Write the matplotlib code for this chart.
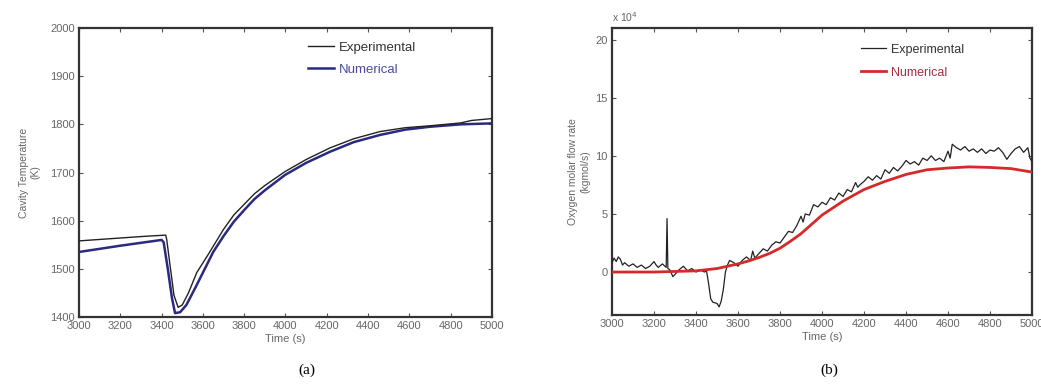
import matplotlib.pyplot as plt

# (a) cavity temperature
t_exp_a = [3000, 3100, 3200, 3300, 3420, 3425, 3440, 3460, 3480, 3500, 3530, 3570,
           3626, 3700, 3750, 3800, 3850, 3900, 3998, 4100, 4215, 4330, 4458, 4580,
           4700, 4850, 4900, 5000]
T_exp_a = [1558, 1561, 1564, 1567, 1570, 1560, 1510, 1445, 1420, 1425, 1450, 1492,
           1530, 1582, 1612, 1634, 1656, 1673, 1702, 1727, 1751, 1770, 1785, 1793,
           1797, 1803, 1808, 1812]
t_num_a = [3000, 3200, 3400, 3410, 3430, 3450, 3465, 3490, 3520, 3560, 3600, 3650,
           3700, 3750, 3800, 3850, 3900, 3998, 4100, 4215, 4330, 4458, 4580, 4700,
           4850, 5000]
T_num_a = [1535, 1548, 1560, 1555, 1500, 1440, 1408, 1410, 1425, 1458, 1492, 1535,
           1568, 1598, 1622, 1645, 1663, 1695, 1720, 1743, 1763, 1778, 1789, 1795,
           1800, 1802]

# (b) oxygen molar flow rate (x 10^4)
t_exp_b = [3000, 3010, 3020, 3030, 3040, 3050, 3060, 3080, 3100, 3120, 3140, 3160, 3180,
           3200, 3210, 3220, 3240, 3258, 3262, 3266, 3275, 3290, 3300, 3320, 3340, 3360,
           3380, 3400, 3420, 3440, 3450, 3460, 3470, 3480, 3500, 3510, 3520, 3530, 3540,
           3550, 3560, 3580, 3600, 3620, 3640, 3660, 3670, 3680, 3700, 3720, 3740, 3760,
           3780, 3800, 3820, 3840, 3860, 3880, 3900, 3910, 3920, 3940, 3960, 3980, 4000,
           4020, 4040, 4060, 4080, 4100, 4120, 4140, 4160, 4170, 4180, 4200, 4220, 4240,
           4260, 4280, 4300, 4320, 4340, 4360, 4380, 4400, 4420, 4440, 4460, 4480, 4500,
           4520, 4540, 4560, 4580, 4600, 4610, 4620, 4640, 4660, 4680, 4700, 4720, 4740,
           4760, 4780, 4800, 4820, 4840, 4860, 4880, 4900, 4920, 4940, 4960, 4980, 4990, 5000]
q_exp_b = [0.8, 1.2, 0.9, 1.3, 1.1, 0.6, 0.8, 0.5, 0.7, 0.4, 0.6, 0.3, 0.5,
           0.9, 0.6, 0.4, 0.7, 0.4, 4.6, 0.3, 0.2, -0.4, -0.2, 0.2, 0.5, 0.1,
           0.3, 0.0, 0.2, 0.0, 0.1, -1.0, -2.3, -2.6, -2.7, -3.0, -2.5, -1.5, 0.0,
           0.6, 1.0, 0.8, 0.5, 1.0, 1.3, 1.0, 1.8, 1.2, 1.6, 2.0, 1.8, 2.3,
           2.6, 2.5, 3.0, 3.5, 3.4, 4.0, 4.8, 4.3, 5.0, 4.9, 5.8, 5.6, 6.0,
           5.8, 6.4, 6.2, 6.8, 6.5, 7.1, 6.9, 7.7, 7.3, 7.5, 7.8, 8.2, 7.9,
           8.3, 8.0, 8.8, 8.5, 9.0, 8.7, 9.1, 9.6, 9.3, 9.5, 9.2, 9.8, 9.6,
           10.0, 9.6, 9.8, 9.5, 10.4, 9.8, 11.0, 10.7, 10.5, 10.8, 10.4, 10.6, 10.3,
           10.6, 10.2, 10.5, 10.4, 10.7, 10.3, 9.7, 10.2, 10.6, 10.8, 10.3, 10.7, 9.8, 9.5]
t_num_b = [3000, 3200, 3400, 3500, 3600, 3650, 3700, 3750, 3800, 3850, 3900, 3950,
           4000, 4050, 4100, 4150, 4200, 4300, 4400, 4500, 4600, 4700, 4800, 4900, 5000]
q_num_b = [0.0, 0.0, 0.1, 0.3, 0.7, 0.95, 1.25, 1.6, 2.05, 2.65, 3.3, 4.1,
           4.9, 5.5, 6.1, 6.6, 7.1, 7.8, 8.4, 8.8, 8.95, 9.05, 9.0, 8.9, 8.6]

xticks = list(range(3000, 5001, 200))

plt.rcParams['font.family'] = ['Liberation Sans', 'DejaVu Sans']
fig = plt.figure(figsize=(10.41, 3.87), dpi=100)
ax1 = fig.add_axes([0.0759, 0.1809, 0.3967, 0.7467])
ax2 = fig.add_axes([0.5879, 0.186, 0.4035, 0.7416])

lab = '#666666'
for ax in (ax1, ax2):
    for s in ax.spines.values():
        s.set_linewidth(1.6)
        s.set_color('#333333')
    ax.tick_params(direction='in', top=True, right=True, length=3, width=0.8,
                   labelsize=8, labelcolor=lab, color='#555555', pad=3)
    ax.set_xticks(xticks)
    ax.set_xlim(3000, 5000)
    ax.set_xlabel('Time (s)', fontsize=8, color=lab, labelpad=2)

# panel (a)
ax1.plot(t_num_a, T_num_a, color='#2a2a80', lw=1.8, label='Numerical', zorder=3)
ax1.plot(t_exp_a, T_exp_a, color='#222222', lw=1.0, label='Experimental', zorder=4)
ax1.set_ylim(1400, 2000)
ax1.set_yticks(range(1400, 2001, 100))
ax1.set_ylabel('Cavity Temperature\n(K)', fontsize=7.5, color=lab, labelpad=7)
h, l = ax1.get_legend_handles_labels()
ax1.legend(h[::-1], l[::-1], loc='upper left', bbox_to_anchor=(0.525, 0.995),
           frameon=False, fontsize=9.5, handlelength=2.0, handletextpad=0.4,
           labelspacing=0.75, labelcolor=['#333333', '#4a4aa0'])

# panel (b)
ax2.plot(t_exp_b, q_exp_b, color='#222222', lw=0.9, label='Experimental', zorder=3)
ax2.plot(t_num_b, q_num_b, color='#d42a2a', lw=2.0, label='Numerical', zorder=4)
ax2.set_ylim(-3.7, 21)
ax2.set_yticks([0, 5, 10, 15, 20])
ax2.set_ylabel('Oxygen molar flow rate\n(kgmol/s)', fontsize=7.5, color=lab, labelpad=4)
ax2.text(0.0, 1.015, r'x 10$^{4}$', transform=ax2.transAxes, fontsize=7.5,
         color=lab, ha='left', va='bottom')
ax2.legend(loc='upper left', bbox_to_anchor=(0.565, 0.985), frameon=False, fontsize=9,
           handlelength=2.0, handletextpad=0.4, labelspacing=0.9,
           labelcolor=['#333333', '#a03040'])

fig.text(307 / 1041, 1 - 370 / 387, '(a)', fontsize=11, family='Liberation Serif',
         ha='center', va='center')
fig.text(829 / 1041, 1 - 370 / 387, '(b)', fontsize=11, family='Liberation Serif',
         ha='center', va='center')

fig.savefig('out.png', dpi=100)
